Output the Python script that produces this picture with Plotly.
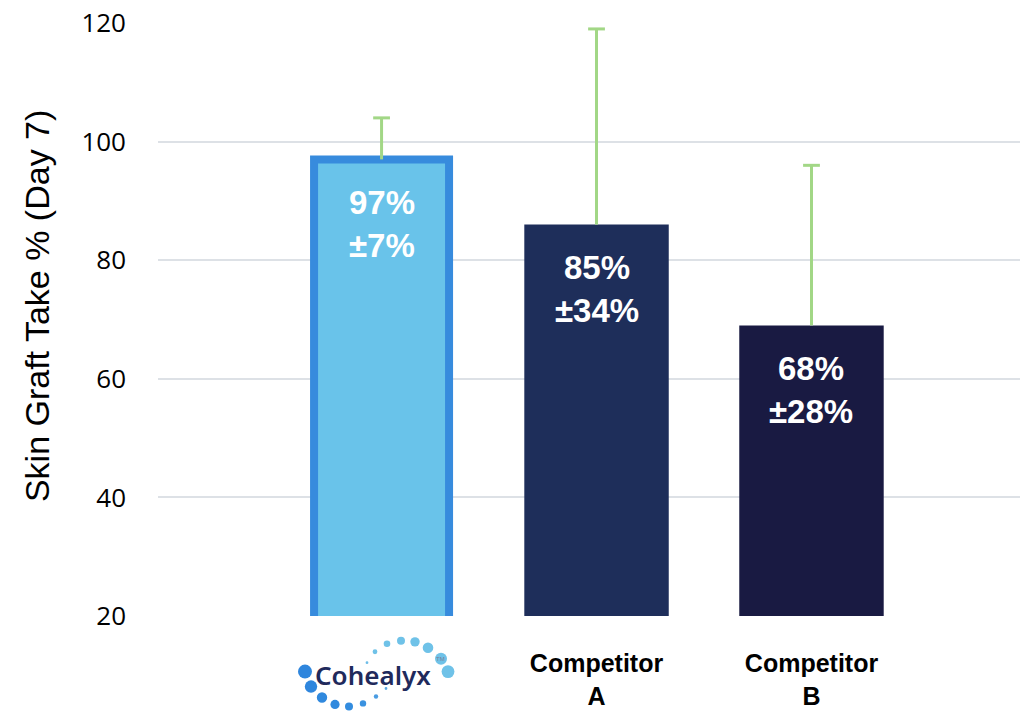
import plotly.graph_objects as go

categories = ["Cohealyx", "Competitor A", "Competitor B"]
tick_text = ["", "<b>Competitor</b><br><b>A</b>", "<b>Competitor</b><br><b>B</b>"]
values = [97, 86, 69]
error_tops = [104, 119, 96]
label_main = ["97%", "85%", "68%"]
label_sd = ["±7%", "±34%", "±28%"]
y_ticks = [20, 40, 60, 80, 100, 120]

bar_colors = ["#69C3EA", "#1E2E5A", "#191A42"]
line_colors = ["#378BDD", "rgba(0,0,0,0)", "rgba(0,0,0,0)"]
line_widths = [8, 0, 0]
bar_widths = [0.628, 0.672, 0.672]
err_color = "#A2D786"

W, H = 1024, 714
L, R, T, B = 158, 4, 20, 97
pw, ph = W - L - R, H - T - B

xs = list(range(len(categories)))
errors_up = [t - v for v, t in zip(values, error_tops)]

fig = go.Figure()
fig.add_trace(go.Bar(
    x=xs, y=values, width=bar_widths,
    marker=dict(color=bar_colors, line=dict(color=line_colors, width=line_widths)),
    error_y=dict(type="data", symmetric=False, array=errors_up,
                 arrayminus=[0] * len(values), color=err_color, thickness=3, width=0),
    hoverinfo="skip",
))
# top caps of the error bars
fig.add_trace(go.Scatter(
    x=xs, y=error_tops, mode="markers",
    marker=dict(symbol="line-ew", size=12, line=dict(color=err_color, width=3)),
    hoverinfo="skip", cliponaxis=False,
))

for i, (m, s, v) in enumerate(zip(label_main, label_sd, values)):
    fig.add_annotation(x=xs[i], y=v, xref="x", yref="y", text=f"<b>{m}</b>",
                       showarrow=False, yanchor="middle", yshift=-43,
                       font=dict(family="Liberation Sans, Arial", size=33, color="white"))
    fig.add_annotation(x=xs[i], y=v, xref="x", yref="y", text=f"<b>{s}</b>",
                       showarrow=False, yanchor="middle", yshift=-86,
                       font=dict(family="Liberation Sans, Arial", size=33, color="white"))

def px2paper(px, py):
    return (px - L) / pw, (H - B - py) / ph

# y-axis title
ax, ay = px2paper(37, 305)
fig.add_annotation(x=ax, y=ay, xref="paper", yref="paper", text="Skin Graft Take % (Day 7)",
                   showarrow=False, textangle=-90, xanchor="center", yanchor="middle",
                   font=dict(family="Liberation Sans, Arial", size=34, color="black"))

# Cohealyx logo (dots + wordmark)
dots = [
    (305, 673, 7.0, "#2F86DD"), (311, 688, 6.2, "#2F86DD"), (322, 699, 5.2, "#3089DE"),
    (335, 706, 4.6, "#3089DE"), (349, 708, 4.0, "#338CDF"), (363, 705, 3.2, "#3A92E0"),
    (376, 698, 2.2, "#4A9CE2"), (386, 690, 1.4, "#5AA8E4"), (367, 664, 1.4, "#6DBDE8"),
    (375, 653, 2.4, "#6FC2E8"), (387, 645, 3.3, "#6FC2E8"), (401, 642, 4.0, "#6FC2E8"),
    (415, 643, 4.7, "#6FC2E8"), (428, 649, 5.3, "#6FC2E8"), (441, 660, 6.0, "#6FC2E8"),
    (448, 673, 6.4, "#6FC2E8"),
]
for (dx, dy, r, c) in dots:
    px, py = px2paper(dx, dy)
    fig.add_shape(type="circle", xref="paper", yref="paper",
                  xsizemode="pixel", ysizemode="pixel", xanchor=px, yanchor=py,
                  x0=-r, x1=r, y0=-r, y1=r, fillcolor=c, line=dict(width=0), layer="above")

lx, ly = px2paper(373, 676)
fig.add_annotation(x=lx, y=ly, xref="paper", yref="paper", text="Cohealyx",
                   showarrow=False, xanchor="center", yanchor="middle",
                   font=dict(family="Noto Sans", size=26, color="#1F2A5C", weight=600))
tx, ty = px2paper(434, 665)
fig.add_annotation(x=tx, y=ty, xref="paper", yref="paper", text="TM",
                   showarrow=False, font=dict(family="Liberation Sans", size=6, color="#7A7F99"))

fig.update_layout(
    width=W, height=H,
    margin=dict(l=L, r=R, t=T, b=B),
    paper_bgcolor="white", plot_bgcolor="white",
    showlegend=False,
    xaxis=dict(range=[-1.04, 2.97], tickvals=xs, ticktext=tick_text,
               showgrid=False, zeroline=False, showline=False, ticks="",
               ticklabelstandoff=30,
               tickfont=dict(family="Liberation Sans, Arial", size=25, color="black")),
    yaxis=dict(range=[20, 120], tickvals=y_ticks, showgrid=True, gridcolor="#DDE1E6",
               gridwidth=1.5, zeroline=False, showline=False, ticks="",
               ticklabelstandoff=31,
               tickfont=dict(family="Open Sans", size=26, color="black")),
)

fig.write_html("out.html", config={"displayModeBar": False},
               post_script="document.body.style.margin='0';")
